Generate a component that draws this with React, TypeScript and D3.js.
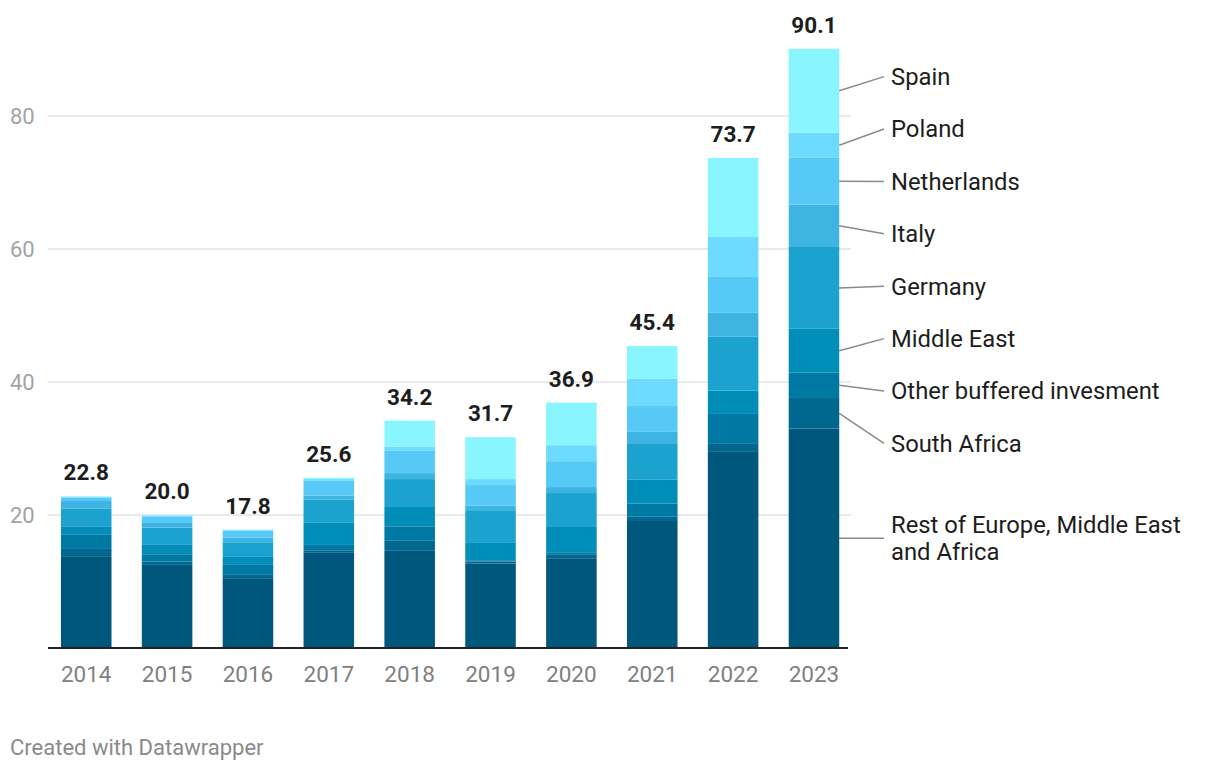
import React from "react";
import * as d3 from "d3";

const years = ["2014", "2015", "2016", "2017", "2018", "2019", "2020", "2021", "2022", "2023"];
const seriesNames = [
  "Rest of Europe, Middle East and Africa",
  "South Africa",
  "Other buffered invesment",
  "Middle East",
  "Germany",
  "Italy",
  "Netherlands",
  "Poland",
  "Spain",
];
const restEMEA = [13.7, 12.5, 10.5, 14.4, 14.7, 12.7, 13.5, 19.1, 29.6, 33.0];
const southAfrica = [1.2, 0.5, 0.5, 0.3, 1.5, 0.3, 0.6, 0.7, 1.2, 4.6];
const otherBuffered = [2.2, 1.1, 1.6, 0.8, 2.1, 0.2, 0.3, 1.9, 4.4, 3.8];
const middleEast = [1.2, 1.5, 1.1, 3.4, 2.9, 2.6, 3.8, 3.6, 3.5, 6.6];
const germany = [2.7, 2.5, 2.2, 3.4, 4.2, 4.8, 5.1, 5.5, 8.1, 12.3];
const italy = [1.1, 0.7, 0.7, 0.6, 0.9, 0.8, 0.9, 1.7, 3.6, 6.4];
const netherlands = [0.5, 1.0, 1.0, 2.3, 3.4, 3.1, 3.9, 4.0, 5.4, 7.0];
const poland = [0.1, 0.1, 0.1, 0.2, 0.6, 0.9, 2.4, 4.0, 6.0, 3.8];
const spain = [0.1, 0.1, 0.1, 0.2, 3.9, 6.3, 6.4, 4.9, 11.9, 12.6];
const totals = [22.8, 20.0, 17.8, 25.6, 34.2, 31.7, 36.9, 45.4, 73.7, 90.1];
const yTicks = [20, 40, 60, 80];
const colors = ["#00577d", "#00678f", "#0078a4", "#008db8", "#1ba2cf", "#3db4e1", "#57c9f6", "#6ddbff", "#88f5ff"];

const seriesValues = [restEMEA, southAfrica, otherBuffered, middleEast, germany, italy, netherlands, poland, spain];

export default function App() {
  const font = "Roboto, 'Noto Sans', sans-serif";
  const x = d3.scaleBand<string>().domain(years).range([45.8, 854.4]).paddingInner(0.375).paddingOuter(0.1875);
  const y = d3.scaleLinear().domain([0, 80]).range([648, 116]);

  const rows = years.map((yr, i) => {
    const r: any = { year: yr };
    seriesNames.forEach((s, k) => (r[s] = seriesValues[k][i]));
    return r;
  });
  const stacked = d3.stack<any>().keys(seriesNames)(rows);

  // label layout for last bar
  const last = years.length - 1;
  const lastX = (x(years[last]) as number) + x.bandwidth();
  const labelItems = stacked.map((layer, k) => {
    const d = layer[last];
    const mid = (y(d[0]) + y(d[1])) / 2;
    const lines = k === 0 ? ["Rest of Europe, Middle East", "and Africa"] : [seriesNames[k]];
    return { name: seriesNames[k], mid, lines, h: lines.length * 27 + 25.4 };
  });
  // cluster-based overlap removal (sorted top to bottom)
  const items = [...labelItems].sort((a, b) => a.mid - b.mid);
  let clusters: { items: any[]; pos: number[] }[] = items.map((it) => ({ items: [it], pos: [it.mid] }));
  const layoutCluster = (c: any) => {
    const n = c.items.length;
    const offs: number[] = [0];
    for (let i = 1; i < n; i++) offs.push(offs[i - 1] + (c.items[i - 1].h + c.items[i].h) / 2);
    const meanMid = d3.mean(c.items.map((it: any, i: number) => it.mid - offs[i])) as number;
    c.pos = offs.map((o) => meanMid + o);
  };
  let changed = true;
  while (changed) {
    changed = false;
    for (let i = 0; i < clusters.length - 1; i++) {
      const a = clusters[i], b = clusters[i + 1];
      const aLast = a.items[a.items.length - 1];
      const gap = (aLast.h + b.items[0].h) / 2;
      if (b.pos[0] - a.pos[a.pos.length - 1] < gap) {
        const merged = { items: [...a.items, ...b.items], pos: [] as number[] };
        layoutCluster(merged);
        clusters.splice(i, 2, merged);
        changed = true;
        break;
      }
    }
  }
  const placed: any[] = [];
  clusters.forEach((c) => c.items.forEach((it: any, i: number) => placed.push({ ...it, y: c.pos[i] })));

  return (
    <div style={{ position: "absolute", left: 0, top: 0 }}>
      <svg width={1220} height={770} style={{ display: "block", fontFamily: font }}>
        <rect width={1220} height={770} fill="#fff" />
        {yTicks.map((t) => (
          <g key={t}>
            <line x1={48} x2={851} y1={y(t)} y2={y(t)} stroke="#e3e3e3" strokeWidth={1.5} />
            <text x={10} y={y(t)} dy="0.35em" fontSize={22} fill="#a3a3a3">
              {t}
            </text>
          </g>
        ))}
        {stacked.map((layer, k) =>
          layer.map((d, i) => (
            <rect
              key={`${k}-${i}`}
              x={x(years[i])}
              width={x.bandwidth()}
              y={y(d[1])}
              height={Math.max(0, y(d[0]) - y(d[1]))}
              fill={colors[k]}
            />
          ))
        )}
        <line x1={48} x2={848} y1={y(0)} y2={y(0)} stroke="#222" strokeWidth={2} />
        {years.map((yr, i) => (
          <g key={yr}>
            <text
              x={(x(yr) as number) + x.bandwidth() / 2}
              y={y(0) + 34}
              textAnchor="middle"
              fontSize={22.5}
              fill="#808080"
            >
              {yr}
            </text>
            <text
              x={(x(yr) as number) + x.bandwidth() / 2}
              y={y(totals[i]) - 16}
              textAnchor="middle"
              fontSize={22.5}
              fontWeight={700}
              fill="#1d1d1d"
            >
              {totals[i].toFixed(1)}
            </text>
          </g>
        ))}
        {placed.map((p) => (
          <g key={p.name}>
            <line x1={lastX} y1={p.mid} x2={884} y2={p.y} stroke="#8a8a8a" strokeWidth={1.5} />
            <text x={891} y={p.y - ((p.lines.length - 1) * 27) / 2} fontSize={23.8} fill="#1d1d1d">
              {p.lines.map((l: string, j: number) => (
                <tspan key={j} x={891} dy={j === 0 ? "0.35em" : 27}>
                  {l}
                </tspan>
              ))}
            </text>
          </g>
        ))}
        <text x={10} y={755} fontSize={22} fill="#8a8a8a">
          Created with Datawrapper
        </text>
      </svg>
    </div>
  );
}
